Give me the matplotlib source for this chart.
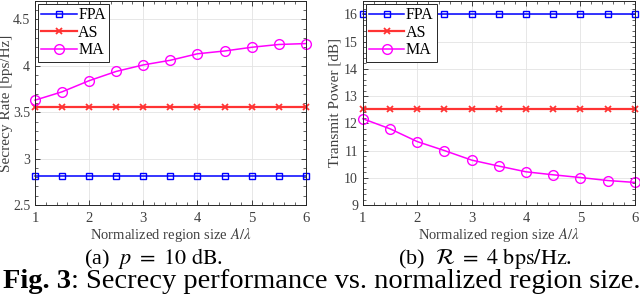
import numpy as np
import matplotlib
matplotlib.use('Agg')
import matplotlib.pyplot as plt
from matplotlib.ticker import MultipleLocator, FormatStrFormatter

# region size A/lambda
region_size = [1, 1.5, 2, 2.5, 3, 3.5, 4, 4.5, 5, 5.5, 6]

# (a) secrecy rate [bps/Hz], p = 10 dB
rate_fpa = [2.81] * 11
rate_as = [3.56] * 11
rate_ma = [3.63, 3.72, 3.84, 3.94, 4.01, 4.06, 4.13, 4.16, 4.20, 4.23, 4.24]

# (b) transmit power [dB], R = 4 bps/Hz
power_fpa = [16.0] * 11
power_as = [12.53] * 11
power_ma = [12.17, 11.80, 11.33, 11.00, 10.65, 10.43, 10.22, 10.11, 10.01, 9.90, 9.83]

series_names = ['FPA', 'AS', 'MA']

plt.rcParams['font.family'] = 'Liberation Serif'
plt.rcParams['mathtext.fontset'] = 'stix'

fig = plt.figure(figsize=(6.4, 2.95), dpi=100)

text_grey = '#404040'


def style_axes(ax, ylim, ymajor, yminor, ylabel, ylabel_x):
    ax.set_xlim(1, 6)
    ax.set_ylim(*ylim)
    ax.xaxis.set_major_locator(MultipleLocator(1))
    ax.xaxis.set_minor_locator(MultipleLocator(0.2))
    ax.yaxis.set_major_locator(MultipleLocator(ymajor))
    ax.yaxis.set_minor_locator(MultipleLocator(yminor))
    ax.yaxis.set_major_formatter(FormatStrFormatter('%g'))
    ax.tick_params(which='both', direction='in', top=True, right=True,
                   labelsize=10.5, colors='#262626', labelcolor=text_grey)
    ax.tick_params(axis='x', pad=5)
    ax.tick_params(axis='y', pad=3.5, labelsize=10)
    ax.tick_params(which='major', length=3.5, width=0.6)
    ax.tick_params(which='minor', length=2, width=0.5)
    ax.grid(True, which='major', color='#e3e3e3', linewidth=0.6)
    ax.set_axisbelow(True)
    for sp in ax.spines.values():
        sp.set_color('#262626')
        sp.set_linewidth(0.7)
    ax.set_xlabel(r'Normalized region size $A/\lambda$', fontsize=10.5, color=text_grey)
    ax.xaxis.set_label_coords(0.5, -0.102)
    ax.set_ylabel(ylabel, fontsize=11, color=text_grey)
    ax.yaxis.set_label_coords(ylabel_x, 0.5)


def draw(ax, fpa, as_, ma):
    ax.plot(region_size, fpa, color='#0000ff', marker='s', markersize=5,
            markerfacecolor='none', linewidth=1.1, label=series_names[0], clip_on=False)
    ax.plot(region_size, as_, color='#ff3333', marker='x', markersize=5,
            markeredgewidth=1.3, linewidth=1.6, label=series_names[1], clip_on=False)
    ax.plot(region_size, ma, color='#ff00ff', marker='o', markersize=7,
            markerfacecolor='none', linewidth=1.1, label=series_names[2], clip_on=False)
    leg = ax.legend(loc='upper left', fontsize=11.5, handlelength=2.2,
                    handletextpad=0.1, borderpad=0.2, labelspacing=0.1,
                    borderaxespad=0.2, fancybox=False, framealpha=1)
    leg.get_frame().set_edgecolor('#262626')
    leg.get_frame().set_linewidth(0.7)


ax1 = fig.add_axes([0.0547, 0.305, 0.423, 0.692])
draw(ax1, rate_fpa, rate_as, rate_ma)
style_axes(ax1, (2.5, 4.7), 0.5, 0.1, 'Secrecy Rate [bps/Hz]', -0.083)

ax2 = fig.add_axes([0.567, 0.305, 0.425, 0.692])
draw(ax2, power_fpa, power_as, power_ma)
style_axes(ax2, (9, 16.5), 1, 0.2, 'Transmit Power [dB]', -0.077)

fig.text(0.24, 0.124, r'(a)  $p\ =\ 10\ \mathrm{dB}$.', ha='center', va='center', fontsize=16)
fig.text(0.758, 0.124, r'(b)  $\mathcal{R}\ =\ 4\ \mathrm{bps/Hz}$.', ha='center', va='center',
         fontsize=16)

# caption: bold "Fig. 3" followed by regular text
renderer = fig.canvas.get_renderer()
t1 = fig.text(0.004, 0.046, 'Fig. 3', ha='left', va='center', fontsize=20.5, fontweight='bold')
bb = t1.get_window_extent(renderer=renderer)
x_next = bb.x1 / fig.bbox.width
fig.text(x_next, 0.046, ': Secrecy performance vs. normalized region size.',
         ha='left', va='center', fontsize=20.5)

fig.savefig('out.png', dpi=100)
